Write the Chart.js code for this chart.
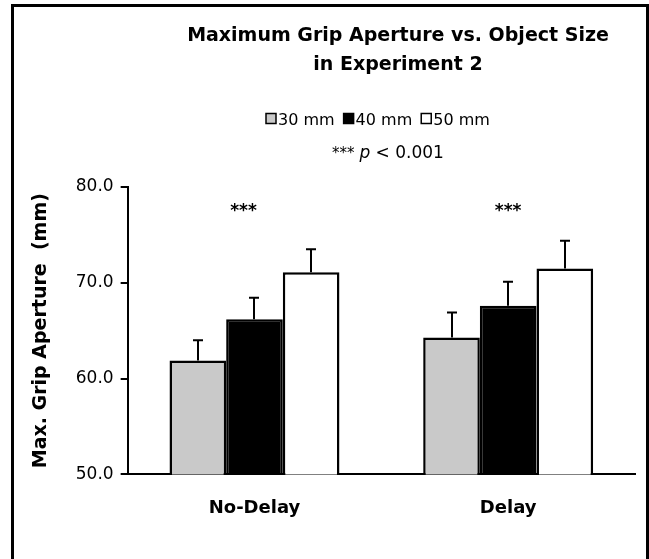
<!DOCTYPE html>
<html lang="en">
	<head>
		<meta charset="UTF-8" />
		<title>Maximum Grip Aperture vs. Object Size</title>
		<script src="https://cdn.jsdelivr.net/npm/chart.js"></script>
		<style>
			body {
				margin: 0;
				background: #fff;
			}
			canvas {
				display: block;
			}
		</style>
	</head>
	<body>
		<canvas id="mga" width="649" height="559"></canvas>

		<script>
			// data
			const conditions = ["No-Delay", "Delay"];
			const sizes = ["30 mm", "40 mm", "50 mm"];
			const mga30 = [61.9, 64.3];
			const mga40 = [66.2, 67.6];
			const mga50 = [71.1, 71.5];
			const err30 = [2.1, 2.6];
			const err40 = [2.25, 2.5];
			const err50 = [2.4, 2.9];
			const significance = ["***", "***"];
			const starLevel = 77;
			const yTicks = [50, 60, 70, 80];

			const errors = [err30, err40, err50];
			const FONT = '"DejaVu Sans", sans-serif';

			Chart.defaults.font.family = FONT;
			Chart.defaults.color = "#000";

			const header = {
				id: "header",
				beforeDraw(chart) {
					const ctx = chart.ctx;
					ctx.save();
					ctx.fillStyle = "#fff";
					ctx.fillRect(0, 0, chart.width, chart.height);

					// frame (open at the bottom, as in the scan)
					ctx.strokeStyle = "#000";
					ctx.lineWidth = 3;
					ctx.beginPath();
					ctx.moveTo(12.5, chart.height + 5);
					ctx.lineTo(12.5, 5.5);
					ctx.lineTo(647.5, 5.5);
					ctx.lineTo(647.5, chart.height + 5);
					ctx.stroke();

					// title
					ctx.fillStyle = "#000";
					ctx.textAlign = "center";
					ctx.textBaseline = "alphabetic";
					ctx.font = "bold 19px " + FONT;
					ctx.fillText("Maximum Grip Aperture vs. Object Size", 398, 40.5);
					ctx.fillText("in Experiment 2", 398, 69.5);

					// legend
					ctx.textAlign = "left";
					ctx.font = "16px " + FONT;
					let x = 266;
					chart.data.datasets.forEach((ds) => {
						ctx.fillStyle = ds.backgroundColor;
						ctx.fillRect(x, 113.5, 10, 10);
						ctx.lineWidth = 1.5;
						ctx.strokeStyle = "#000";
						ctx.strokeRect(x, 113.5, 10, 10);
						ctx.fillStyle = "#000";
						ctx.fillText(ds.label, x + 12, 124.5);
						x += 12 + ctx.measureText(ds.label).width + 9;
					});

					// *** p < 0.001
					ctx.font = "15px " + FONT;
					const a = "*** ";
					const wa = ctx.measureText(a).width;
					ctx.font = "italic 17px " + FONT;
					const wp = ctx.measureText("p").width;
					ctx.font = "17px " + FONT;
					const c = " < 0.001";
					const wc = ctx.measureText(c).width;
					let px = 388 - (wa + wp + wc) / 2;
					ctx.font = "15px " + FONT;
					ctx.fillText(a, px, 158);
					px += wa;
					ctx.font = "italic 17px " + FONT;
					ctx.fillText("p", px, 158);
					px += wp;
					ctx.font = "17px " + FONT;
					ctx.fillText(c, px, 158);
					ctx.restore();
				},
				afterDatasetsDraw(chart) {
					const ctx = chart.ctx;
					const y = chart.scales.y;
					ctx.save();
					ctx.strokeStyle = "#000";
					ctx.lineWidth = 2;
					chart.data.datasets.forEach((ds, i) => {
						chart.getDatasetMeta(i).data.forEach((bar, j) => {
							const top = y.getPixelForValue(ds.data[j] + errors[i][j]);
							const bx = Math.round(bar.x);
							ctx.beginPath();
							ctx.moveTo(bx, bar.y);
							ctx.lineTo(bx, top);
							ctx.moveTo(bx - 5, top);
							ctx.lineTo(bx + 5, top);
							ctx.stroke();
						});
					});

					// significance stars over each group
					const xs = chart.scales.x;
					const shift = [-11, 0];
					ctx.fillStyle = "#000";
					ctx.font = "bold 17px " + FONT;
					ctx.textAlign = "center";
					ctx.textBaseline = "alphabetic";
					significance.forEach((s, j) => {
						ctx.fillText(s, xs.getPixelForValue(j) + shift[j], y.getPixelForValue(starLevel));
					});
					ctx.restore();
				},
			};

			new Chart(document.getElementById("mga"), {
				type: "bar",
				data: {
					labels: conditions,
					datasets: [
						{ label: sizes[0], data: mga30, backgroundColor: "#c9c9c9" },
						{ label: sizes[1], data: mga40, backgroundColor: "#000000" },
						{ label: sizes[2], data: mga50, backgroundColor: "#ffffff" },
					],
				},
				options: {
					responsive: false,
					animation: false,
					layout: {
						padding: { top: 187, left: 14, right: 14, bottom: 17 },
					},
					datasets: {
						bar: {
							borderColor: "#000",
							borderWidth: 2.5,
							categoryPercentage: 0.67,
							barPercentage: 1,
						},
					},
					plugins: {
						legend: { display: false },
						tooltip: { enabled: false },
					},
					scales: {
						x: {
							grid: { display: false, drawTicks: false },
							border: { display: true, color: "#000", width: 2 },
							ticks: {
								font: { size: 18, weight: "bold" },
								color: "#000",
								padding: 23,
							},
						},
						y: {
							min: yTicks[0],
							max: yTicks[yTicks.length - 1],
							afterBuildTicks(scale) {
								scale.ticks = yTicks.map((v) => ({ value: v }));
							},
							grid: {
								drawOnChartArea: false,
								drawTicks: true,
								tickLength: 7,
								color: "#000",
								lineWidth: 2,
							},
							border: { display: true, color: "#000", width: 2 },
							ticks: {
								font: { size: 17 },
								color: "#000",
								padding: 7,
								callback: (v) => Number(v).toFixed(1),
							},
							title: {
								display: true,
								text: "Max. Grip Aperture  (mm)",
								font: { size: 19, weight: "bold" },
								color: "#000",
								padding: { top: 16, bottom: 16 },
							},
						},
					},
				},
				plugins: [header],
			});
		</script>
	</body>
</html>
